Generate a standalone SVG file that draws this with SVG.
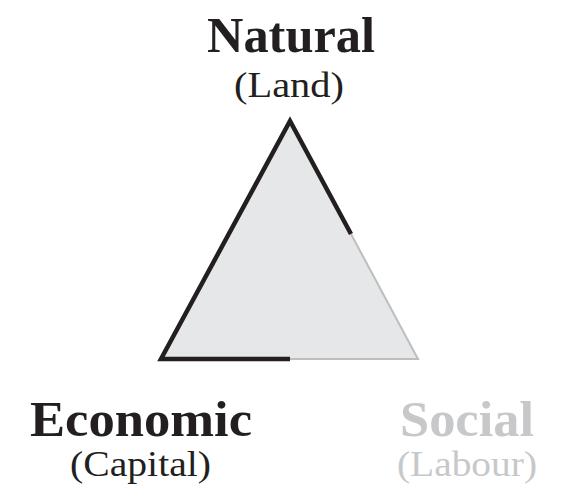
<svg xmlns="http://www.w3.org/2000/svg" width="563" height="497" viewBox="0 0 563 497">
  <style>
    .title { font-family: "Liberation Serif", "Times New Roman", serif; font-weight: bold; font-size: 51px; text-anchor: middle; }
    .sub { font-family: "Liberation Serif", "Times New Roman", serif; font-size: 36px; text-anchor: middle; }
    .dark { fill: #231f20; }
    .light { fill: #c7c8ca; }
    .edge { fill: none; stroke-linejoin: miter; stroke-miterlimit: 20; }
    .edge-dark { stroke: #231f20; stroke-width: 4.5; }
    .edge-light { stroke: #bcbec0; stroke-width: 2; }
  </style>
  <rect width="563" height="497" fill="#ffffff"/>
  <g id="triangle">
    <polygon points="290,121 161,359 418,359" fill="#e6e7e8"/>
  </g>
  <g id="connectors">
    <path class="edge edge-light" d="M351,234 L418,359 L290,359"/>
    <path class="edge edge-dark" d="M290,359 L161,359 L290,121 L351,234"/>
  </g>
  <g id="natural">
    <text class="title dark" x="291" y="52" textLength="168" lengthAdjust="spacingAndGlyphs">Natural</text>
    <text class="sub dark" x="289" y="97" textLength="110" lengthAdjust="spacingAndGlyphs">(Land)</text>
  </g>
  <g id="economic">
    <text class="title dark" x="141" y="436" textLength="222" lengthAdjust="spacingAndGlyphs">Economic</text>
    <text class="sub dark" x="140.5" y="476" textLength="141" lengthAdjust="spacingAndGlyphs">(Capital)</text>
  </g>
  <g id="social">
    <text class="title light" x="467" y="436" textLength="134" lengthAdjust="spacingAndGlyphs">Social</text>
    <text class="sub light" x="467" y="476" textLength="140" lengthAdjust="spacingAndGlyphs">(Labour)</text>
  </g>
</svg>
